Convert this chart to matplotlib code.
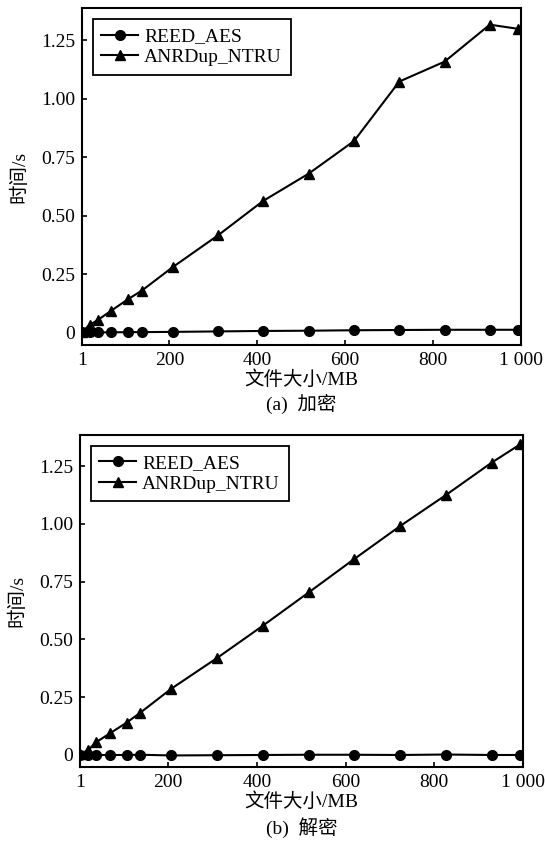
import matplotlib
matplotlib.use("Agg")
import matplotlib.pyplot as plt
from matplotlib.ticker import FixedLocator, FixedFormatter

plt.rcParams['font.family'] = ['Liberation Serif', 'Noto Sans CJK SC', 'DejaVu Sans']
plt.rcParams['mathtext.fontset'] = 'stix'

# ---- data ----
file_size = [1, 19, 37, 68, 106, 137, 207, 311, 413, 517, 620, 723, 826, 929, 994]

enc_reed = [0.002, 0.002, 0.002, 0.002, 0.003, 0.003, 0.004, 0.006, 0.008, 0.009,
            0.011, 0.012, 0.013, 0.013, 0.013]
enc_ntru = [0.005, 0.034, 0.055, 0.095, 0.144, 0.180, 0.280, 0.417, 0.563, 0.680,
            0.819, 1.073, 1.158, 1.316, 1.298]

dec_reed = [0.0, 0.0, 0.0, 0.0, 0.0, 0.001, -0.002, -0.001, 0.0, 0.001,
            0.001, 0.0, 0.002, 0.0, 0.0]
dec_ntru = [0.005, 0.021, 0.055, 0.093, 0.140, 0.183, 0.287, 0.421, 0.559, 0.704,
            0.849, 0.991, 1.125, 1.265, 1.345]

series_names = ['REED_AES', 'ANRDup_NTRU']
x_ticks = [1, 200, 400, 600, 800, 1000]
x_tick_labels = ['1', '200', '400', '600', '800', '1 000']
y_ticks = [0, 0.25, 0.50, 0.75, 1.00, 1.25]
y_tick_labels = ['0', '0.25', '0.50', '0.75', '1.00', '1.25']
x_label = '文件大小/MB'
y_label = '时间/s'
captions = ['(a)  加密', '(b)  解密']

FS = 14
fig = plt.figure(figsize=(5.45, 8.46), dpi=100)

ax_positions = [
    [82 / 545, 1 - 345 / 846, (521 - 82) / 545, (345 - 8.5) / 846],
    [80 / 545, 1 - 767 / 846, (523 - 80) / 545, (767 - 435) / 846],
]
datasets = [(enc_reed, enc_ntru), (dec_reed, dec_ntru)]
caption_y = [1 - 404 / 846, 1 - 828 / 846]

for pos, (reed, ntru), cap, cy in zip(ax_positions, datasets, captions, caption_y):
    ax = fig.add_axes(pos)
    ax.plot(file_size, reed, color='black', lw=1.5, marker='o', ms=7,
            label=series_names[0])
    ax.plot(file_size, ntru, color='black', lw=1.5, marker='^', ms=7,
            label=series_names[1])
    ax.set_xlim(1, 1000)
    ax.set_ylim(-0.052, 1.385)
    ax.xaxis.set_major_locator(FixedLocator(x_ticks))
    ax.xaxis.set_major_formatter(FixedFormatter(x_tick_labels))
    ax.yaxis.set_major_locator(FixedLocator(y_ticks))
    ax.yaxis.set_major_formatter(FixedFormatter(y_tick_labels))
    ax.tick_params(direction='in', length=3.5, width=1.2, labelsize=FS,
                   top=False, right=False)
    ax.tick_params(axis='x', pad=5)
    ax.tick_params(axis='y', pad=5)
    for sp in ax.spines.values():
        sp.set_linewidth(1.5)
        sp.set_color('black')
    ax.set_xlabel(x_label, fontsize=FS, labelpad=1)
    ax.set_ylabel(y_label, fontsize=FS, labelpad=9)
    leg = ax.legend(loc='upper left', fontsize=FS, frameon=True, fancybox=False,
                    edgecolor='black', framealpha=1, handlelength=1.9,
                    handletextpad=0.3, labelspacing=0.15, borderpad=0.45,
                    borderaxespad=0.55)
    leg.get_frame().set_linewidth(1.3)
    fig.text(pos[0] + pos[2] / 2, cy, cap, ha='center', va='center', fontsize=FS)

fig.savefig('out.png', dpi=100)
